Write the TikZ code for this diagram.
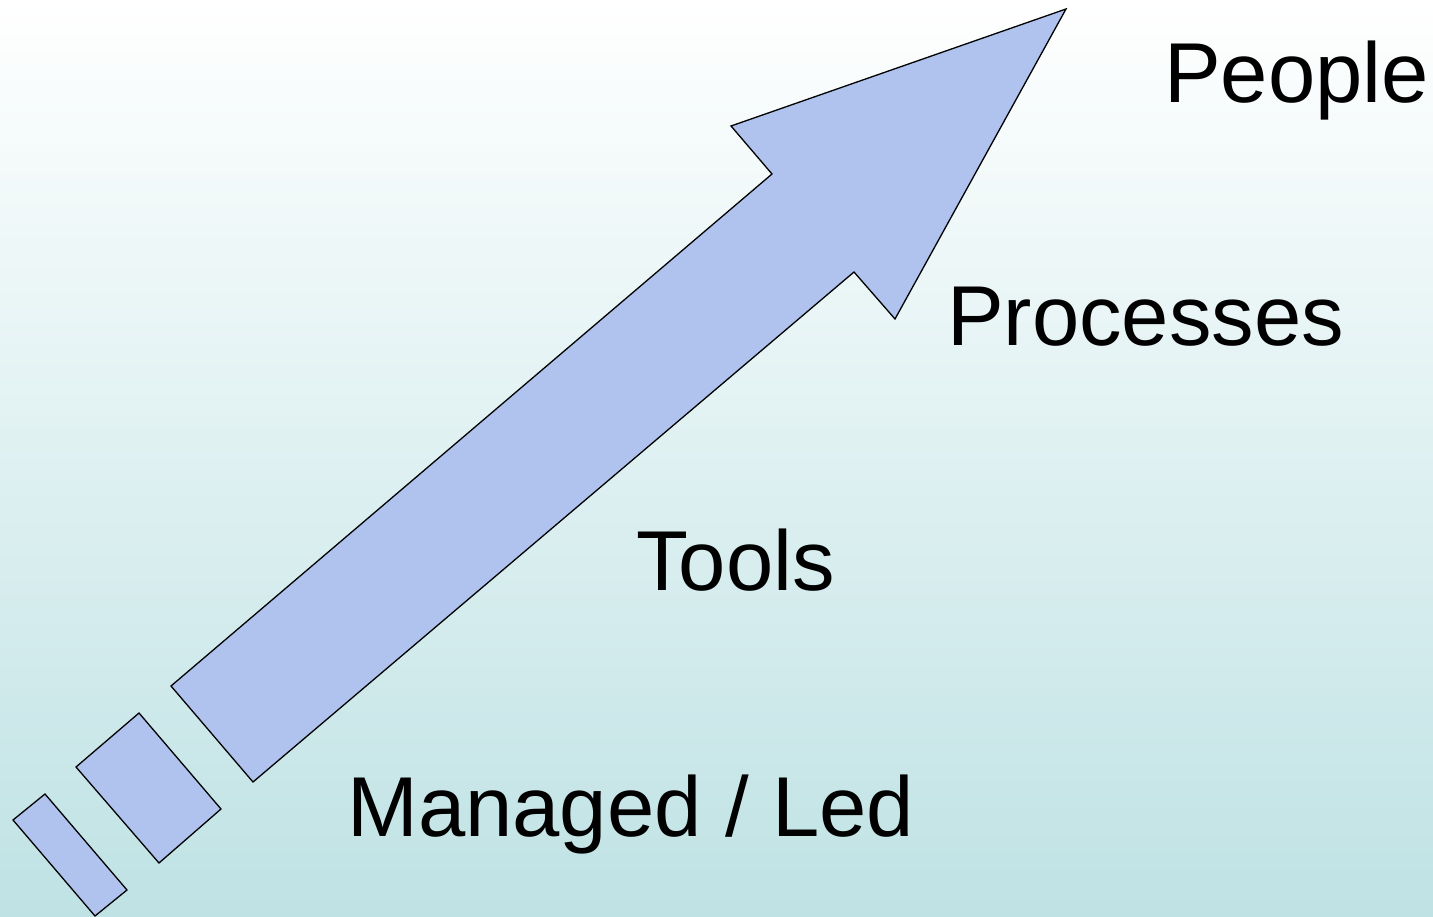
\documentclass[tikz,border=0pt]{standalone}
\usepackage{fontspec}
\setmainfont{Liberation Sans}
\definecolor{bgbottom}{RGB}{191,226,228}
\definecolor{bgmiddle}{RGB}{232,243,244}
\definecolor{arrowfill}{RGB}{175,195,238}
\begin{document}
\begin{tikzpicture}[x=1pt,y=-1pt,
  shapefill/.style={fill=arrowfill,draw=black,line width=1.3pt,line join=miter},
  label/.style={anchor=base west,inner sep=0pt,font=\fontsize{85}{100}\selectfont}]
  % background gradient
  \shade[top color=white,middle color=bgmiddle,bottom color=bgbottom] (0,0) rectangle (1433,917);
  \useasboundingbox (0,0) rectangle (1433,917);
  % main arrow
  \draw[shapefill] (171,686) -- (253,782) -- (854,272) -- (895,319) -- (1066,9)
     -- (731,126) -- (772,174) -- cycle;
  % trailing blocks
  \draw[shapefill] (76,767) -- (139,713) -- (221,809) -- (159,863) -- cycle;
  \draw[shapefill] (13,820) -- (45,794) -- (127,890) -- (95,916) -- cycle;
  % labels
  \node[label] (people) at (1164,103) {People};
  \node[label] (processes) at (947,346) {Processes};
  \node[label] (tools) at (636,590) {Tools};
  \node[label] (managed) at (347,836) {Managed / Led};
\end{tikzpicture}
\end{document}
